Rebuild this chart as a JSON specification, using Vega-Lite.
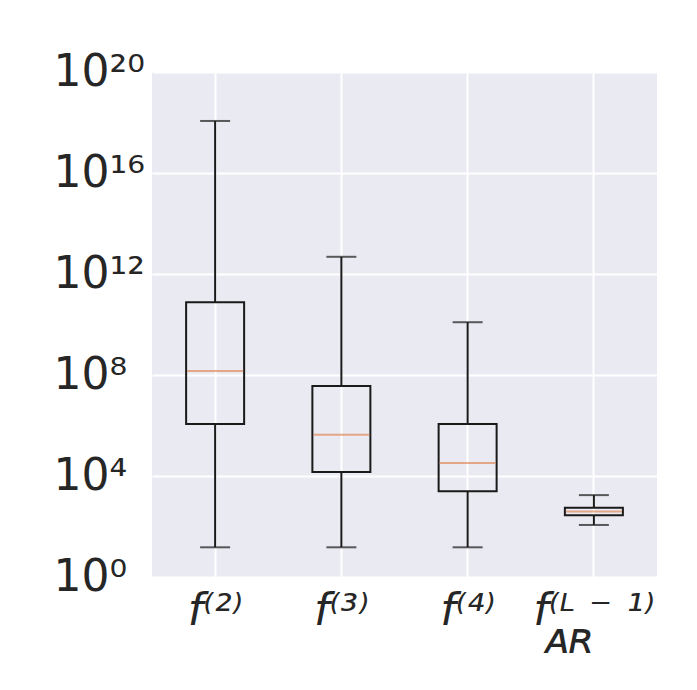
{
  "$schema": "https://vega.github.io/schema/vega-lite/v6.json",
  "autosize": {"type": "none"},
  "width": 505,
  "height": 505,
  "padding": {"left": 152, "top": 72, "right": 40, "bottom": 113},
  "background": "white",
  "config": {
    "view": {"fill": "#EAEAF2", "stroke": null},
    "font": "DejaVu Sans"
  },
  "data": {
    "values": [
      {"name": "f2", "lower": 15, "q1": 1150000, "median": 145000000, "q3": 76000000000, "upper": 1.15e18},
      {"name": "f3", "lower": 15, "q1": 14500, "median": 430000, "q3": 37000000, "upper": 4.8e12},
      {"name": "f4", "lower": 15, "q1": 2500, "median": 33000, "q3": 1150000, "upper": 1.23e10},
      {"name": "fAR", "lower": 115, "q1": 280, "median": 390, "q3": 550, "upper": 1750}
    ]
  },
  "encoding": {
    "x": {
      "field": "name",
      "type": "nominal",
      "sort": null,
      "scale": {"paddingInner": 0, "paddingOuter": 0},
      "axis": {
        "title": null,
        "domain": false,
        "ticks": false,
        "tickSize": 0,
        "labelAngle": 0,
        "labelPadding": 12,
        "labelFont": "DejaVu Sans",
        "labelFontSize": 44,
        "labelFontStyle": "italic",
        "labelColor": "#262626",
        "labelLineHeight": 28,
        "labelExpr": "datum.value == 'f2' ? 'f⁽²⁾' : datum.value == 'f3' ? 'f⁽³⁾' : datum.value == 'f4' ? 'f⁽⁴⁾' : ['f⁽ᴸ ⁻ ¹⁾', 'ᴀʀ \u2800']",
        "grid": true,
        "gridColor": "white",
        "gridWidth": 2
      }
    }
  },
  "layer": [
    {
      "mark": {"type": "rule", "color": "#1a1a1a", "strokeWidth": 2},
      "encoding": {
        "y": {
          "field": "lower",
          "type": "quantitative",
          "scale": {"type": "log", "domain": [1, 1e20], "nice": false},
          "axis": {
            "title": null,
            "domain": false,
            "ticks": false,
            "tickSize": 0,
            "values": [1, 10000, 100000000, 1000000000000, 1e16, 1e20],
            "labelExpr": "'10' + replace(replace(replace(replace(replace(replace(toString(round(log(datum.value)/LN10)),'0','⁰'),'1','¹'),'2','²'),'4','⁴'),'6','⁶'),'8','⁸')",
            "labelAlign": "left",
            "labelPadding": 99,
            "labelFont": "DejaVu Sans",
            "labelFontSize": 44,
            "labelColor": "#262626",
            "labelBaseline": "middle",
            "grid": true,
            "gridColor": "white",
            "gridWidth": 2
          }
        },
        "y2": {"field": "q1"}
      }
    },
    {
      "mark": {"type": "rule", "color": "#1a1a1a", "strokeWidth": 2},
      "encoding": {
        "y": {"field": "q3", "type": "quantitative"},
        "y2": {"field": "upper"}
      }
    },
    {
      "mark": {"type": "bar", "size": 58, "fill": "transparent", "stroke": "#1a1a1a", "strokeWidth": 2},
      "encoding": {
        "y": {"field": "q1", "type": "quantitative"},
        "y2": {"field": "q3"}
      }
    },
    {
      "mark": {"type": "tick", "size": 56, "color": "#E08A5A", "thickness": 2},
      "encoding": {
        "y": {"field": "median", "type": "quantitative"}
      }
    },
    {
      "mark": {"type": "tick", "size": 30, "color": "#1a1a1a", "thickness": 2},
      "encoding": {
        "y": {"field": "upper", "type": "quantitative"}
      }
    },
    {
      "mark": {"type": "tick", "size": 30, "color": "#1a1a1a", "thickness": 2},
      "encoding": {
        "y": {"field": "lower", "type": "quantitative"}
      }
    }
  ]
}
